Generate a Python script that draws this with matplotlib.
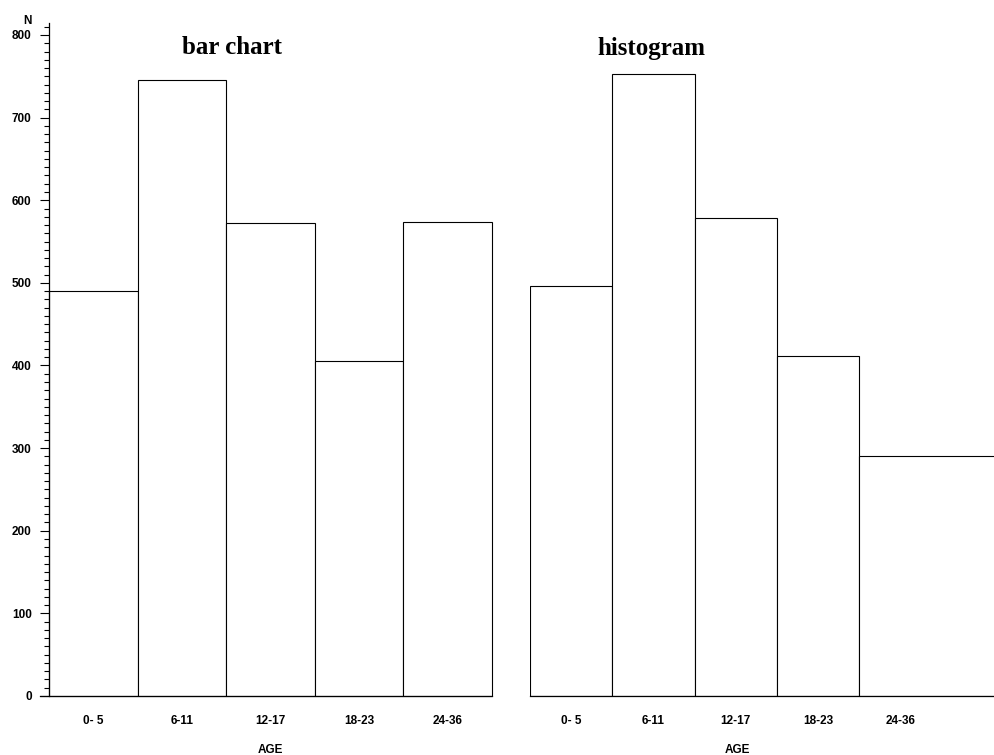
import matplotlib
matplotlib.use("Agg")
import matplotlib.pyplot as plt
from matplotlib.ticker import MultipleLocator

# age groups and counts
age_groups = ["0- 5", "6-11", "12-17", "18-23", "24-36"]
bar_counts = [490, 745, 572, 406, 574]
hist_edges = [0, 6, 12, 18, 24, 36]
hist_heights = [496, 753, 579, 412, 291]
hist_label_pos = [3, 9, 15, 21, 27]

W, H = 994, 755
fig = plt.figure(figsize=(W / 100, H / 100), dpi=100)

sans = "Liberation Sans"
serif = "Liberation Serif"
fs = 8.5

def fx(px):
    return px / W

def fy(py):
    return 1 - py / H

y0, ytop = 696, 23
ymax = (y0 - ytop) / (661 / 800)

# left: bar chart
ax1 = fig.add_axes([fx(49), fy(y0), fx(492 - 49), (y0 - ytop) / H])
bars = ax1.bar(range(len(bar_counts)), bar_counts, width=1.0, align="edge",
               facecolor="white", edgecolor="black", linewidth=0.8)
for b in bars:
    b.set_clip_on(False)
ax1.set_xlim(0, 5)
ax1.set_ylim(0, ymax)
ax1.set_xticks([i + 0.5 for i in range(5)])
ax1.set_xticklabels(age_groups, fontfamily=sans, fontweight="bold", fontsize=fs)
ax1.tick_params(axis="x", length=0, pad=14)
ax1.yaxis.set_major_locator(MultipleLocator(100))
ax1.yaxis.set_minor_locator(MultipleLocator(10))
ax1.tick_params(axis="y", which="major", length=6.5, width=0.8, direction="out", pad=6)
ax1.tick_params(axis="y", which="minor", length=3.5, width=0.8, direction="out")
for lab in ax1.get_yticklabels():
    lab.set_fontfamily(sans)
    lab.set_fontweight("bold")
    lab.set_fontsize(fs)
ax1.spines["top"].set_visible(False)
ax1.spines["right"].set_visible(False)
ax1.spines["left"].set_linewidth(0.9)
ax1.spines["bottom"].set_linewidth(0.9)
ax1.spines["bottom"].set_bounds(-0.1, 5)

# right: histogram
x_right = 464 / 82.25 * 6
ax2 = fig.add_axes([fx(530), fy(y0), fx(W - 530), (y0 - ytop) / H])
widths = [hist_edges[i + 1] - hist_edges[i] for i in range(len(hist_heights))]
ax2.bar(hist_edges[:-1], hist_heights, width=widths, align="edge",
        facecolor="white", edgecolor="black", linewidth=0.8)
ax2.set_xlim(0, x_right)
ax2.set_ylim(0, ymax)
ax2.set_xticks(hist_label_pos)
ax2.set_xticklabels(age_groups, fontfamily=sans, fontweight="bold", fontsize=fs)
ax2.tick_params(axis="x", length=0, pad=14)
ax2.set_yticks([])
for s in ["top", "right", "left"]:
    ax2.spines[s].set_visible(False)
ax2.spines["bottom"].set_linewidth(0.9)

# text
fig.text(fx(232), fy(48), "bar chart", fontfamily=serif, fontweight="bold",
         fontsize=18, ha="center", va="center")
fig.text(fx(651), fy(48), "histogram", fontfamily=serif, fontweight="bold",
         fontsize=18, ha="center", va="center")
fig.text(fx(27), fy(21), "N", fontfamily=sans, fontweight="bold", fontsize=fs,
         ha="center", va="center")
fig.text(fx(270), fy(750), "AGE", fontfamily=sans, fontweight="bold", fontsize=fs,
         ha="center", va="center")
fig.text(fx(737), fy(750), "AGE", fontfamily=sans, fontweight="bold", fontsize=fs,
         ha="center", va="center")

fig.savefig("out.png", dpi=100)
